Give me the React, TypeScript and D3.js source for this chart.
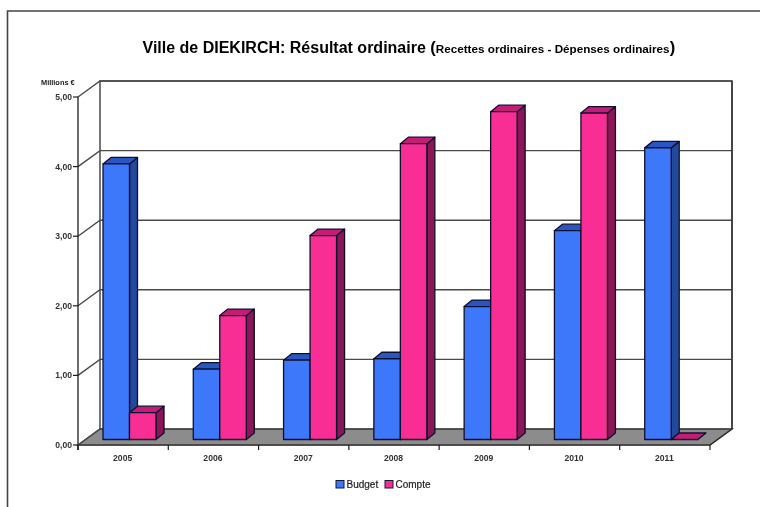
import React from "react";
import * as d3 from "d3";

const years = ["2005", "2006", "2007", "2008", "2009", "2010", "2011"];
const budget = [3.96, 1.01, 1.14, 1.16, 1.91, 3.0, 4.19];
const compte = [0.385, 1.78, 2.93, 4.25, 4.71, 4.69, 0];
const yTicks = [0, 1, 2, 3, 4, 5];
const seriesNames = ["Budget", "Compte"];

const W = 760, H = 507;
const DX = 22, DY = -16;
const y = d3.scaleLinear().domain([0, 5]).range([445, 97]);
const x = d3.scaleBand().domain(years).range([78, 710]);
const BD = 8, BDY = -6.5;
const OX = 7, OY = -5.5;
const BW = 26.5;
const ink = "#1c1c1c";
const grid = "#4a4a4a";
const font = "Liberation Sans, Arial, sans-serif";
const fmt = (v: number) => v.toFixed(2).replace(".", ",");

function Bar({ x0, v, front, top, side }: { x0: number; v: number; front: string; top: string; side: string }) {
  const yT = y(v) + OY;
  const yB = y(0) + OY;
  const xL = x0, xR = x0 + BW;
  const stroke = { stroke: "#10102e", strokeWidth: 1.3, strokeLinejoin: "round" as const };
  return (
    <g>
      <path d={`M${xR},${yT}L${xR + BD},${yT + BDY}L${xR + BD},${yB + BDY}L${xR},${yB}Z`} fill={side} {...stroke} />
      <path d={`M${xL},${yT}L${xL + BD},${yT + BDY}L${xR + BD},${yT + BDY}L${xR},${yT}Z`} fill={top} {...stroke} />
      <rect x={xL} y={yT} width={BW} height={yB - yT} fill={front} {...stroke} />
    </g>
  );
}

export default function App() {
  const x0 = 78, x1 = 710, yb = y(0);
  return (
    <svg width={W} height={H} viewBox={`0 0 ${W} ${H}`} style={{ position: "absolute", left: 0, top: 0, background: "#fff" }} fontFamily={font}>
      <defs>
        <filter id="soft" x="-5%" y="-5%" width="110%" height="110%">
          <feGaussianBlur stdDeviation="0.7" />
        </filter>
      </defs>
      <g filter="url(#soft)">
        <path d={`M7.5,507V11H760`} fill="none" stroke="#444" strokeWidth={1.6} />
        <text x={142.5} y={53} fontSize={16} fontWeight={700} fill="#000">
          Ville de DIEKIRCH: Résultat ordinaire{" "}
          <tspan fontSize={16.5}>(</tspan>
          <tspan fontSize={11.7}>Recettes ordinaires - Dépenses ordinaires</tspan>
          <tspan fontSize={16.5}>)</tspan>
        </text>

        {/* floor */}
        <path d={`M${x0},${yb}L${x0 + DX},${yb + DY}H${x1 + DX}L${x1},${yb}Z`} fill="#8c8c8c" stroke={grid} strokeWidth={1.4} />
        {/* back wall + grid */}
        <rect x={x0 + DX} y={y(5) + DY} width={x1 - x0} height={y(0) - y(5)} fill="#fff" stroke={grid} strokeWidth={1.5} />
        {yTicks.map((t) => (
          <g key={t}>
            <path d={`M${x0},${y(t)}L${x0 + DX},${y(t) + DY}H${x1 + DX}`} fill="none" stroke={grid} strokeWidth={1.4} />
            <path d={`M${x0 - 5},${y(t)}H${x0}`} stroke={ink} strokeWidth={1.2} />
            <text x={x0 - 6} y={y(t) + 3} textAnchor="end" fontSize={8.6} fontWeight={700} fill="#333">{fmt(t)}</text>
          </g>
        ))}
        <path d={`M${x1 + DX},${y(5) + DY}V${yb + DY}L${x1},${yb}`} fill="none" stroke="#333" strokeWidth={1.4} />

        {years.map((yr, i) => {
          const b = x(yr)!;
          const start = b + 25;
          return (
            <g key={yr}>
              <Bar x0={start} v={budget[i]} front="#3d78fb" top="#2a56c4" side="#234a9c" />
              <Bar x0={start + BW} v={compte[i]} front="#f82e95" top="#c41f78" side="#8a1455" />
            </g>
          );
        })}

        {/* axes */}
        <path d={`M${x0},${y(5)}V${yb + 5}`} stroke={ink} strokeWidth={1.3} fill="none" />
        <path d={`M${x0},${yb}H${x1}`} stroke="#444" strokeWidth={1.5} fill="none" />
        {years.map((yr) => (
          <path key={yr} d={`M${x(yr)!},${yb}v5`} stroke={ink} strokeWidth={1.2} />
        ))}
        <path d={`M${x1},${yb}v5`} stroke={ink} strokeWidth={1.2} />
        {years.map((yr) => (
          <text key={yr} x={x(yr)! + x.bandwidth() / 2 - 0.5} y={460.5} textAnchor="middle" fontSize={8.6} fontWeight={700} fill="#333">{yr}</text>
        ))}
        <text x={41} y={85} fontSize={7.4} fontWeight={700} fill="#222">Millions €</text>

        {/* legend */}
        {seriesNames.map((n, i) => {
          const lx = i === 0 ? 336 : 385;
          return (
            <g key={n}>
              <rect x={lx} y={480.5} width={8} height={7.5} fill={i === 0 ? "#3d78fb" : "#f82e95"} stroke="#14143a" strokeWidth={1} />
              <text x={lx + 10.5} y={488} fontSize={10} fill="#222" stroke="#222" strokeWidth={0.2}>{n}</text>
            </g>
          );
        })}
      </g>
    </svg>
  );
}
